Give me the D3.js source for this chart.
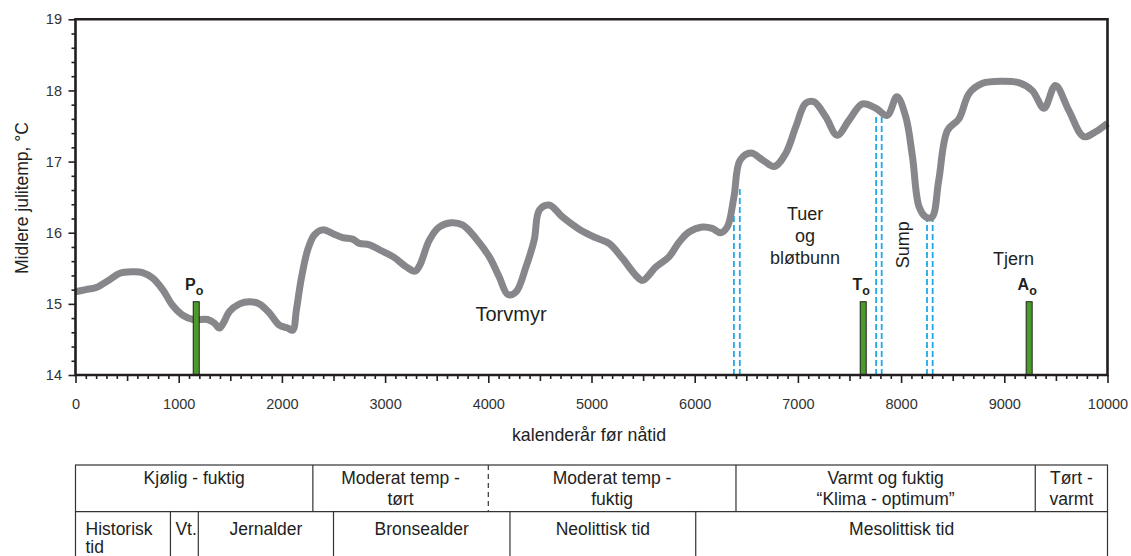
<!DOCTYPE html>
<html>
<head>
<meta charset="utf-8">
<script src="https://cdn.jsdelivr.net/npm/d3@7"></script>
<style>
  html, body { margin: 0; padding: 0; background: #fff; }
  svg { display: block; font-family: "Liberation Sans", Arial, sans-serif; }
</style>
</head>
<body>
<svg id="chart" width="1131" height="556"></svg>
<script>
// Reconstructed mean July temperature, calendar years before present
const years = [0, 100, 200, 330, 430, 550, 650, 750, 850, 940, 1040, 1140, 1280, 1345, 1395, 1440, 1490, 1590, 1685, 1780, 1880, 1975, 2055, 2105, 2140, 2185, 2250, 2315, 2395, 2490, 2590, 2685, 2750, 2850, 2960, 3080, 3205, 3290, 3335, 3430, 3525, 3640, 3750, 3880, 4010, 4105, 4190, 4270, 4365, 4445, 4495, 4590, 4720, 4880, 5040, 5170, 5300, 5430, 5495, 5625, 5750, 5850, 5945, 6075, 6170, 6250, 6315, 6380, 6440, 6545, 6660, 6770, 6880, 6980, 7075, 7155, 7270, 7380, 7495, 7625, 7755, 7865, 7960, 8045, 8110, 8175, 8240, 8300, 8365, 8450, 8560, 8660, 8790, 8980, 9140, 9270, 9385, 9495, 9625, 9770, 9885, 10000];
const temps = [15.17, 15.20, 15.23, 15.34, 15.43, 15.45, 15.44, 15.36, 15.19, 14.98, 14.84, 14.78, 14.78, 14.73, 14.66, 14.75, 14.89, 15.00, 15.03, 15.00, 14.87, 14.70, 14.66, 14.63, 14.91, 15.33, 15.76, 15.97, 16.04, 15.99, 15.93, 15.91, 15.85, 15.83, 15.75, 15.66, 15.52, 15.46, 15.54, 15.90, 16.08, 16.14, 16.11, 15.92, 15.66, 15.38, 15.13, 15.17, 15.52, 15.90, 16.32, 16.39, 16.22, 16.05, 15.93, 15.85, 15.64, 15.40, 15.33, 15.52, 15.66, 15.87, 16.01, 16.08, 16.06, 16.00, 16.08, 16.50, 17.02, 17.12, 17.02, 16.93, 17.11, 17.49, 17.82, 17.84, 17.63, 17.37, 17.58, 17.81, 17.75, 17.65, 17.91, 17.63, 17.07, 16.36, 16.22, 16.22, 16.74, 17.44, 17.60, 17.96, 18.10, 18.13, 18.11, 18.00, 17.75, 18.07, 17.72, 17.35, 17.42, 17.54];

// Sample markers (green bars)
const markerNames = ["P", "T", "A"];
const markerYears = [1170, 7633, 9241];
const markerTops = [15.03, 15.03, 15.03];

// Facies boundaries (blue dashed lines): year and upper end
const boundaryYears = [6380, 6437, 7758, 7812, 8251, 8306];
const boundaryTops = [16.28, 16.64, 17.63, 17.65, 16.20, 16.25];

// Facies labels inside the plot
const faciesLabels = [
  { lines: ["Torvmyr"], year: 4220, temp: 14.76, size: 20 },
  { lines: ["Tuer", "og", "bløtbunn"], year: 7070, temp: 16.18, size: 18 },
  { lines: ["Tjern"], year: 9090, temp: 15.55, size: 18 }
];
const rotatedLabel = { text: "Sump", year: 8081, temp: 15.83 };

// Axis ticks
const xMajorTicks = d3.range(0, 10001, 1000);
const xMidTicks = d3.range(500, 10000, 1000);
const xMinorTicks = d3.range(0, 10001, 100).filter(v => v % 500 !== 0);
const yMajorTicks = [14, 15, 16, 17, 18, 19];
const yMinorTicks = d3.range(14.2, 19, 0.2).map(v => +v.toFixed(1)).filter(v => v % 1 !== 0);

// Climate and cultural periods shown below the chart
const climateBounds = [0, 2300, 4000, 6400, 9300, 10000];
const climateDashed = [false, false, true, false, false, false];
const climateNames = [["Kjølig - fuktig"], ["Moderat temp -", "tørt"], ["Moderat temp -", "fuktig"], ["Varmt og fuktig", "“Klima - optimum”"], ["Tørt -", "varmt"]];
const cultureBounds = [0, 920, 1190, 2500, 4210, 6010, 10000];
const cultureNames = [["Historisk", "tid"], ["Vt."], ["Jernalder"], ["Bronsealder"], ["Neolittisk tid"], ["Mesolittisk tid"]];
const cultureAlign = ["start", "start", "middle", "middle", "middle", "middle"];

const svg = d3.select("#chart");
const plotLeft = 75.5, plotRight = 1107.5, plotTop = 19.3, plotBottom = 375;

const x = d3.scaleLinear().domain([0, 10000]).range([plotLeft, plotRight]);
const y = d3.scaleLinear().domain([14, 19]).range([plotBottom, plotTop]);

const ink = "#231f20";

// Axes
const gx = svg.append("g").attr("transform", `translate(0,${plotBottom})`);
gx.append("g").call(d3.axisBottom(x).tickValues(xMinorTicks).tickSize(4).tickFormat(""));
gx.append("g").call(d3.axisBottom(x).tickValues(xMidTicks).tickSize(6).tickFormat(""));
const gxMajor = gx.append("g").call(d3.axisBottom(x).tickValues(xMajorTicks).tickSize(8).tickFormat(d3.format("d")));
gx.selectAll(".domain").remove();
gx.selectAll(".tick line").attr("stroke", ink).attr("stroke-width", 1.6);
gxMajor.selectAll("text").attr("y", 34).attr("dy", 0)
  .attr("font-size", 14.5).attr("fill", "#333").attr("font-family", "Liberation Sans, Arial, sans-serif");

const gy = svg.append("g").attr("transform", `translate(${plotLeft},0)`);
gy.append("g").call(d3.axisLeft(y).tickValues(yMinorTicks).tickSize(4).tickFormat(""));
const gyMajor = gy.append("g").call(d3.axisLeft(y).tickValues(yMajorTicks).tickSize(7).tickFormat(d3.format("d")));
gy.selectAll(".domain").remove();
gy.selectAll(".tick line").attr("stroke", ink).attr("stroke-width", 1.6);
gyMajor.selectAll("text").attr("x", -13.5)
  .attr("font-size", 14.5).attr("fill", "#333").attr("font-family", "Liberation Sans, Arial, sans-serif");

// Axis titles
svg.append("text")
  .attr("transform", `translate(28,198) rotate(-90)`)
  .attr("text-anchor", "middle").attr("font-size", 17.5).attr("fill", "#222")
  .text("Midlere julitemp, °C");
svg.append("text")
  .attr("x", 589).attr("y", 441).attr("text-anchor", "middle")
  .attr("font-size", 17.8).attr("fill", "#222")
  .text("kalenderår før nåtid");

// Facies boundaries
svg.append("g").selectAll("line").data(boundaryYears).join("line")
  .attr("x1", d => x(d)).attr("x2", d => x(d))
  .attr("y1", y(14)).attr("y2", (d, i) => y(boundaryTops[i]))
  .attr("stroke", "#1fa9e6").attr("stroke-width", 1.8).attr("stroke-dasharray", "6,3");

// Temperature curve
const series = years.map((yr, i) => [yr, temps[i]]);
svg.append("path")
  .datum(series)
  .attr("fill", "none")
  .attr("stroke", "#87878b")
  .attr("stroke-width", 7)
  .attr("stroke-linejoin", "round")
  .attr("stroke-linecap", "butt")
  .attr("d", d3.line().x(d => x(d[0])).y(d => y(d[1])).curve(d3.curveCatmullRom.alpha(0.5)));

// Sample markers
const bw = 6;
svg.append("g").selectAll("rect").data(markerYears).join("rect")
  .attr("x", d => x(d) - bw / 2).attr("width", bw)
  .attr("y", (d, i) => y(markerTops[i])).attr("height", (d, i) => y(14) - y(markerTops[i]))
  .attr("fill", "#4b9b2b").attr("stroke", ink).attr("stroke-width", 1);
const ml = svg.append("g").selectAll("text").data(markerYears).join("text")
  .attr("x", d => x(d) - 2).attr("y", 290)
  .attr("text-anchor", "middle").attr("font-weight", "bold").attr("fill", ink);
ml.append("tspan").attr("font-size", 16).text((d, i) => markerNames[i]);
ml.append("tspan").attr("font-size", 12.5).attr("dy", 4.5).text("o");

// Facies labels
faciesLabels.forEach(f => {
  const t = svg.append("text")
    .attr("text-anchor", "middle").attr("font-size", f.size).attr("fill", ink);
  f.lines.forEach((ln, i) => {
    t.append("tspan").attr("x", x(f.year)).attr("y", y(f.temp) + i * 22).text(ln);
  });
});
svg.append("text")
  .attr("transform", `translate(${x(rotatedLabel.year)},${y(rotatedLabel.temp)}) rotate(-90)`)
  .attr("text-anchor", "middle").attr("font-size", 18).attr("fill", ink)
  .text(rotatedLabel.text);

// Plot frame
svg.append("path")
  .attr("d", `M${plotLeft},${plotBottom}V${plotTop}H${plotRight}V${plotBottom}Z`)
  .attr("fill", "none").attr("stroke", ink).attr("stroke-width", 2.6);

// Period table
const tTop = 465, tMid = 511.7, tBot = 560;
const tbl = svg.append("g").attr("fill", "none").attr("stroke", "#333").attr("stroke-width", 1.2);
tbl.append("rect").attr("x", x(0)).attr("y", tTop).attr("width", x(10000) - x(0)).attr("height", tBot - tTop);
tbl.append("line").attr("x1", x(0)).attr("x2", x(10000)).attr("y1", tMid).attr("y2", tMid);
climateBounds.forEach((b, i) => {
  if (i === 0 || i === climateBounds.length - 1) return;
  tbl.append("line").attr("x1", x(b)).attr("x2", x(b)).attr("y1", tTop).attr("y2", tMid)
    .attr("stroke-dasharray", climateDashed[i] ? "5,4" : null);
});
cultureBounds.slice(1, -1).forEach(b => {
  tbl.append("line").attr("x1", x(b)).attr("x2", x(b)).attr("y1", tMid).attr("y2", tBot);
});

const cellFont = 17.5;
climateNames.forEach((lines, i) => {
  const cx = (x(climateBounds[i]) + x(climateBounds[i + 1])) / 2;
  const t = svg.append("text").attr("text-anchor", "middle").attr("font-size", cellFont).attr("fill", "#222");
  lines.forEach((ln, j) => t.append("tspan").attr("x", cx).attr("y", 484 + j * 21).text(ln));
});
cultureNames.forEach((lines, i) => {
  const a = cultureAlign[i];
  const cx = a === "start" ? x(cultureBounds[i]) + (i === 0 ? 10 : 5)
                           : (x(cultureBounds[i]) + x(cultureBounds[i + 1])) / 2;
  const t = svg.append("text").attr("text-anchor", a).attr("font-size", cellFont).attr("fill", "#222");
  lines.forEach((ln, j) => t.append("tspan").attr("x", cx).attr("y", 535 + j * 18).text(ln));
});
</script>
</body>
</html>
